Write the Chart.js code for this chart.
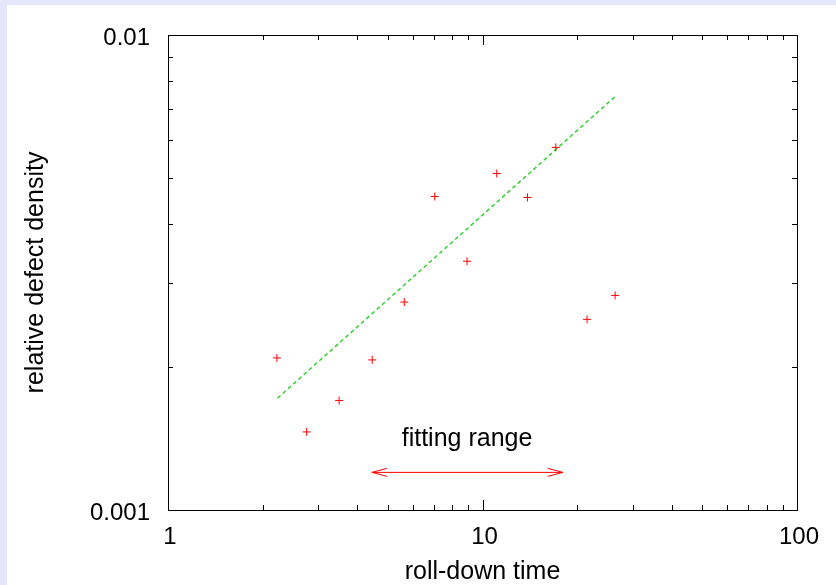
<!DOCTYPE html>
<html>
<head>
<meta charset="utf-8">
<script src="https://cdn.jsdelivr.net/npm/chart.js@4.4.0/dist/chart.umd.min.js"></script>
<style>
  html, body { margin: 0; padding: 0; background: #fff; }
</style>
</head>
<body>
<canvas id="chart" width="836" height="585"></canvas>
<script>
// measured points
const rollDownTime = [2.22, 2.76, 3.50, 4.46, 5.64, 7.05, 8.93, 11.1, 13.9, 17.1, 21.5, 26.4];
const defectDensity = [0.00209, 0.00146, 0.00170, 0.00207, 0.00274, 0.00457, 0.00334, 0.00511, 0.00455, 0.00580, 0.00252, 0.00283];

// fitted power law, drawn between its two end points
const fitX = [2.23, 26.4];
const fitY = [0.00172, 0.00742];

// "fitting range" arrow
const rangeX = [4.45, 18.0];
const rangeY = 0.0012;
const rangeLabel = 'fitting range';
const rangeLabelX = 8.93;
const rangeLabelY = 0.00141;

const xTickValues = [1, 10, 100];
const xTickLabels = ['1', '10', '100'];
const xMinorTicks = [2, 3, 4, 5, 6, 7, 8, 9, 20, 30, 40, 50, 60, 70, 80, 90];
const yTickValues = [0.001, 0.01];
const yTickLabels = ['0.001', '0.01'];
const yMinorTicks = [0.002, 0.003, 0.004, 0.005, 0.006, 0.007, 0.008, 0.009];

const FONT = '"Liberation Sans", Arial, Helvetica, sans-serif';

// background, gnuplot-style border with inward ticks, arrow heads and label
const gnuplotFrame = {
  id: 'gnuplotFrame',
  beforeDraw(chart) {
    const c = chart.ctx;
    c.save();
    c.fillStyle = '#e6e6fa';
    c.fillRect(0, 0, chart.width, chart.height);
    c.fillStyle = '#ffffff';
    c.fillRect(7, 5, chart.width - 7, chart.height - 5);
    c.restore();
  },
  beforeDatasetsDraw(chart) {
    const { ctx: c, chartArea: a, scales: { x, y } } = chart;
    c.save();
    c.strokeStyle = '#000';
    c.lineWidth = 1;
    c.beginPath();
    const seg = (x1, y1, x2, y2) => { c.moveTo(x1, y1); c.lineTo(x2, y2); };
    const xt = (v, len) => {
      const px = Math.round(x.getPixelForValue(v)) + 0.5;
      seg(px, a.bottom, px, a.bottom - len);
      seg(px, a.top, px, a.top + len);
    };
    const yt = (v, len) => {
      const py = Math.round(y.getPixelForValue(v)) + 0.5;
      seg(a.left, py, a.left + len, py);
      seg(a.right, py, a.right - len, py);
    };
    xMinorTicks.forEach(v => xt(v, 5));
    xTickValues.forEach(v => xt(v, 10));
    yMinorTicks.forEach(v => yt(v, 5));
    c.stroke();
    c.strokeRect(Math.round(a.left) + 0.5, Math.round(a.top) + 0.5,
      Math.round(a.right) - Math.round(a.left), Math.round(a.bottom) - Math.round(a.top));
    c.restore();
  },
  afterDatasetsDraw(chart) {
    const { ctx: c, scales: { x, y } } = chart;
    const x1 = x.getPixelForValue(rangeX[0]);
    const x2 = x.getPixelForValue(rangeX[1]);
    const py = y.getPixelForValue(rangeY);
    c.save();
    c.strokeStyle = '#ff0000';
    c.lineWidth = 1;
    c.beginPath();
    c.moveTo(x1 + 15, py - 4); c.lineTo(x1, py); c.lineTo(x1 + 15, py + 4);
    c.moveTo(x2 - 15, py - 4); c.lineTo(x2, py); c.lineTo(x2 - 15, py + 4);
    c.stroke();
    c.fillStyle = '#000';
    c.font = '25px ' + FONT;
    c.textAlign = 'center';
    c.textBaseline = 'middle';
    c.fillText(rangeLabel, x.getPixelForValue(rangeLabelX), y.getPixelForValue(rangeLabelY));
    c.restore();
  }
};

new Chart(document.getElementById('chart'), {
  type: 'scatter',
  data: {
    datasets: [
      {
        label: 'data',
        data: rollDownTime.map((t, i) => ({ x: t, y: defectDensity[i] })),
        pointStyle: 'cross',
        pointRadius: 4,
        borderColor: '#ff0000',
        borderWidth: 1,
        showLine: false
      },
      {
        label: 'fit',
        data: fitX.map((t, i) => ({ x: t, y: fitY[i] })),
        showLine: true,
        pointRadius: 0,
        borderColor: 'rgb(50,210,50)',
        borderWidth: 1.5,
        borderDash: [4, 3]
      },
      {
        label: 'range',
        data: rangeX.map(t => ({ x: t, y: rangeY })),
        showLine: true,
        pointRadius: 0,
        borderColor: '#ff0000',
        borderWidth: 1
      }
    ]
  },
  options: {
    responsive: false,
    animation: false,
    events: [],
    layout: { padding: { top: 35, right: 39, left: 0, bottom: 0 } },
    plugins: { legend: { display: false }, tooltip: { enabled: false } },
    scales: {
      x: {
        type: 'logarithmic',
        min: 1,
        max: 100,
        afterBuildTicks: s => { s.ticks = xTickValues.map(v => ({ value: v })); },
        afterFit: s => { s.height = 75; },
        grid: { display: false, drawTicks: false },
        border: { display: false },
        ticks: {
          padding: 13,
          labelOffset: 2,
          color: '#000',
          font: { family: FONT, size: 24 },
          autoSkip: false,
          maxRotation: 0,
          callback: v => xTickLabels[xTickValues.indexOf(v)] ?? ''
        },
        title: {
          display: true,
          text: 'roll-down time',
          color: '#000',
          font: { family: FONT, size: 25 },
          padding: { top: 0, bottom: -2 }
        }
      },
      y: {
        type: 'logarithmic',
        min: 0.001,
        max: 0.01,
        afterBuildTicks: s => { s.ticks = yTickValues.map(v => ({ value: v })); },
        afterFit: s => { s.width = 168; },
        grid: { display: false, drawTicks: false },
        border: { display: false },
        ticks: {
          padding: 18,
          labelOffset: 3,
          color: '#000',
          font: { family: FONT, size: 24 },
          autoSkip: false,
          callback: v => yTickLabels[yTickValues.indexOf(v)] ?? ''
        },
        title: {
          display: true,
          text: 'relative defect density',
          color: '#000',
          font: { family: FONT, size: 25 },
          padding: { top: 21, bottom: 0 }
        }
      }
    }
  },
  plugins: [gnuplotFrame]
});
</script>
</body>
</html>
